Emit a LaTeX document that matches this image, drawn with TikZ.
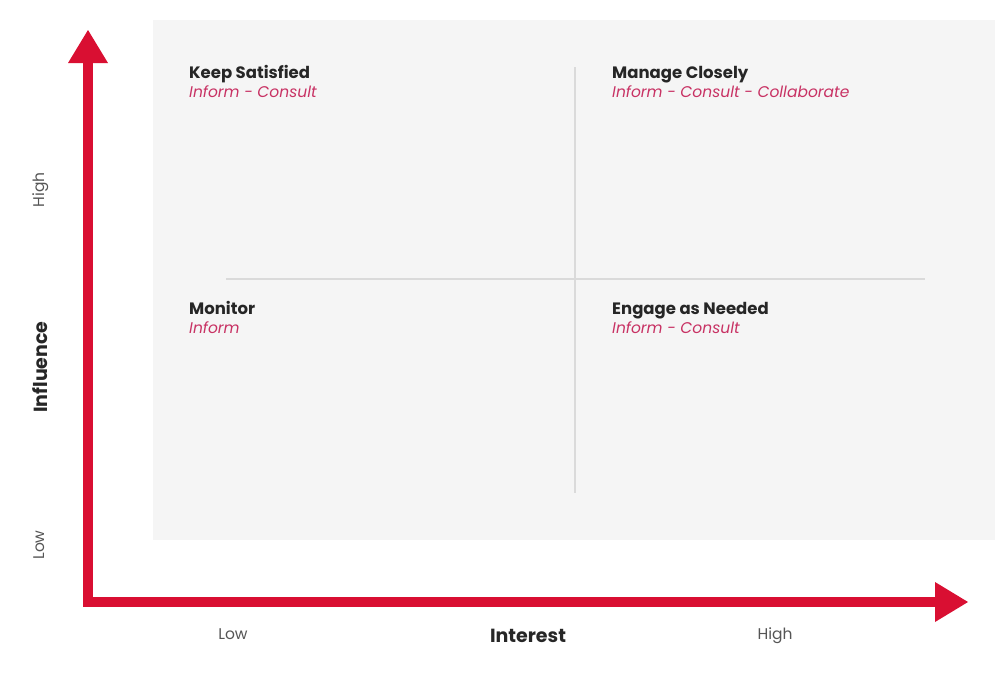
\documentclass[tikz,border=0pt]{standalone}
\usepackage{fontspec}
\setmainfont{Poppins}
\definecolor{axisred}{RGB}{217,15,50}
\definecolor{panel}{RGB}{245,245,245}
\definecolor{gridgray}{RGB}{218,218,218}
\definecolor{subpink}{RGB}{200,50,100}
\definecolor{labgray}{RGB}{85,85,85}
\begin{document}
\begin{tikzpicture}[x=1pt,y=-1pt,
  title/.style={anchor=base west,inner sep=0pt,font=\fontsize{16.5}{18}\selectfont\bfseries,text=black!85},
  sub/.style={anchor=base west,inner sep=0pt,font=\fontsize{15.5}{17}\selectfont\itshape,text=subpink},
  axlab/.style={anchor=base,inner sep=0pt,font=\fontsize{15.5}{17}\selectfont,text=labgray},
  axtitle/.style={anchor=base,inner sep=0pt,font=\fontsize{19}{21}\selectfont\bfseries,text=black!85}]
\useasboundingbox (0,0) rectangle (995,678);
\fill[panel] (153,20) rectangle (995,540);
% grid lines
\coordinate (vt) at (575,67);
\coordinate (vb) at (575,493);
\coordinate (hl) at (226,279);
\coordinate (hr) at (925,279);
\draw[gridgray,line width=1.5pt] (vt) -- (vb);
\draw[gridgray,line width=1.5pt] (hl) -- (hr);
% axes
\coordinate (ytop) at (88,60);
\coordinate (origin) at (88,602);
\coordinate (xend) at (937,602);
\draw[axisred,line width=10pt,line join=miter] (ytop) -- (origin) -- (xend);
\fill[axisred] (88,30) -- (108,63) -- (68,63) -- cycle;
\fill[axisred] (968,602) -- (935,582) -- (935,622) -- cycle;
% quadrant labels
\node[title] (ks) at (189,78) {Keep Satisfied};
\node[sub] (ksi) at (189,97) {Inform - Consult};
\node[title] (mc) at (612,78) {Manage Closely};
\node[sub] (mci) at (612,97) {Inform - Consult - Collaborate};
\node[title] (mo) at (189,314) {Monitor};
\node[sub] (moi) at (189,333) {Inform};
\node[title] (en) at (612,314) {Engage as Needed};
\node[sub] (eni) at (612,333) {Inform - Consult};
% axis labels
\node[axlab,rotate=90] (yhigh) at (44,190) {High};
\node[axlab,rotate=90] (ylow) at (44,545) {Low};
\node[axtitle,rotate=90] (yt) at (47,367) {Influence};
\node[axlab] (xlow) at (233,639) {Low};
\node[axtitle] (xt) at (528,642) {Interest};
\node[axlab] (xhigh) at (775,639) {High};
\end{tikzpicture}
\end{document}
